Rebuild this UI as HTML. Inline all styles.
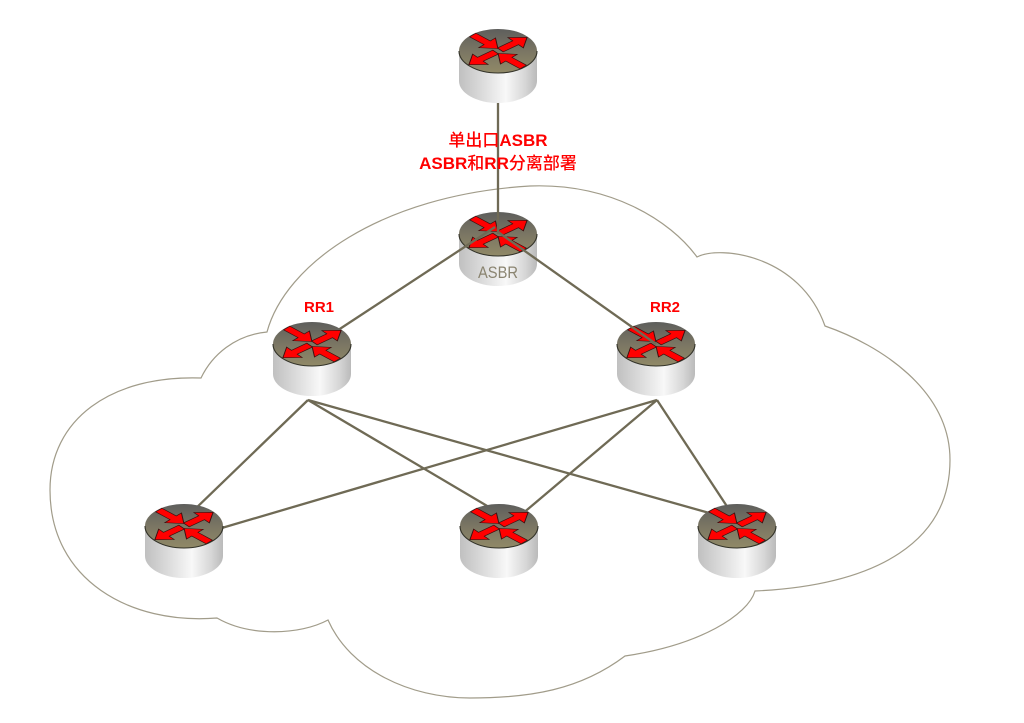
<!DOCTYPE html>
<html><head><meta charset="utf-8">
<style>
html,body{margin:0;padding:0;background:#fff;}
svg{display:block;}
</style></head>
<body>
<svg width="1024" height="723" viewBox="0 0 1024 723" xmlns="http://www.w3.org/2000/svg">
<defs>
  <linearGradient id="gtop" x1="0" y1="0" x2="0" y2="1">
    <stop offset="0" stop-color="#5e5e5c"/>
    <stop offset="0.55" stop-color="#7d7864"/>
    <stop offset="1" stop-color="#908967"/>
  </linearGradient>
  <linearGradient id="gbody" x1="0" y1="0" x2="1" y2="0">
    <stop offset="0" stop-color="#c0c0c0"/>
    <stop offset="0.35" stop-color="#e0e0e0"/>
    <stop offset="0.6" stop-color="#f8f8f8"/>
    <stop offset="0.85" stop-color="#d6d6d6"/>
    <stop offset="1" stop-color="#bababa"/>
  </linearGradient>
  <polygon id="arr" points="0,-4.5 20,-4.5 20,-12 35,0 20,12 20,4.5 0,4.5" fill="#ff0000" stroke="#3a1010" stroke-width="1" stroke-linejoin="miter"/>
  <g id="router">
    <path d="M0,22 L0,52 A39,22 0 0 0 78,52 L78,22 Z" fill="url(#gbody)"/>
    <ellipse cx="39" cy="22" rx="39" ry="22" fill="url(#gtop)"/>
    <path d="M0,22 A39,22 0 0 0 78,22" fill="none" stroke="#333329" stroke-width="1.1"/>
    <g transform="translate(39,22) scale(1,0.56)">
      <use href="#arr" transform="rotate(-40) translate(3,0)"/>
      <use href="#arr" transform="rotate(140) translate(3,0)"/>
      <use href="#arr" transform="rotate(44) translate(-38,-3)"/>
      <use href="#arr" transform="rotate(224) translate(-38,-3)"/>
    </g>
  </g>
</defs>

<!-- cloud -->
<path d="M267,332 C285,265 380,195 530,186 C610,183 670,220 697,257 C720,245 800,255 825,326 C880,345 950,390 950,460 C950,540 880,585 755,591 C748,615 700,645 625,656 C580,690 530,698 470,698 C410,698 350,670 328,620 C300,635 250,637 217,618 C130,625 50,580 50,490 C50,420 110,375 201,378 C212,355 235,335 267,332 Z" fill="none" stroke="#a19c8a" stroke-width="1.2"/>

<!-- lower connections -->
<g stroke="#6f6a55" stroke-width="2.3" fill="none">
  <line x1="308" y1="400" x2="192" y2="512"/>
  <line x1="308" y1="400" x2="494" y2="510"/>
  <line x1="308" y1="400" x2="720" y2="516"/>
  <line x1="657" y1="400" x2="215" y2="530"/>
  <line x1="657" y1="400" x2="515" y2="520"/>
  <line x1="657" y1="400" x2="732" y2="514"/>
</g>

<!-- bottom routers -->
<use href="#router" x="145" y="504"/>
<use href="#router" x="460" y="504"/>
<use href="#router" x="698" y="504"/>

<!-- ASBR router -->
<use href="#router" x="459" y="212"/>
<text x="498" y="278" font-family="Liberation Sans, sans-serif" font-size="16.5" fill="#8a8470" text-anchor="middle" textLength="40" lengthAdjust="spacingAndGlyphs">ASBR</text>

<!-- RR2 router -->
<use href="#router" x="617" y="322"/>

<!-- upper connections -->
<g stroke="#6f6a55" stroke-width="2.3" fill="none">
  <line x1="498" y1="100" x2="498" y2="234"/>
  <line x1="326" y1="338" x2="495" y2="227"/>
  <line x1="498" y1="232" x2="656" y2="344"/>
</g>

<!-- RR1 router -->
<use href="#router" x="273" y="322"/>

<!-- top router -->
<use href="#router" x="459" y="29"/>

<!-- labels -->
<text x="498" y="146" font-family="Liberation Sans, 'Noto Sans CJK SC', sans-serif" font-size="17" fill="#ff0000" text-anchor="middle"><tspan font-family="'Noto Sans CJK SC', sans-serif" font-weight="500">单出口</tspan><tspan font-weight="bold">ASBR</tspan></text>
<text x="498" y="169" font-family="Liberation Sans, 'Noto Sans CJK SC', sans-serif" font-size="17" fill="#ff0000" text-anchor="middle"><tspan font-weight="bold">ASBR</tspan><tspan font-family="'Noto Sans CJK SC', sans-serif" font-weight="500">和</tspan><tspan font-weight="bold">RR</tspan><tspan font-family="'Noto Sans CJK SC', sans-serif" font-weight="500">分离部署</tspan></text>
<text x="319" y="312" font-family="Liberation Sans, sans-serif" font-size="15" font-weight="bold" fill="#ff0000" text-anchor="middle">RR1</text>
<text x="665" y="312" font-family="Liberation Sans, sans-serif" font-size="15" font-weight="bold" fill="#ff0000" text-anchor="middle">RR2</text>
</svg>
</body></html>
